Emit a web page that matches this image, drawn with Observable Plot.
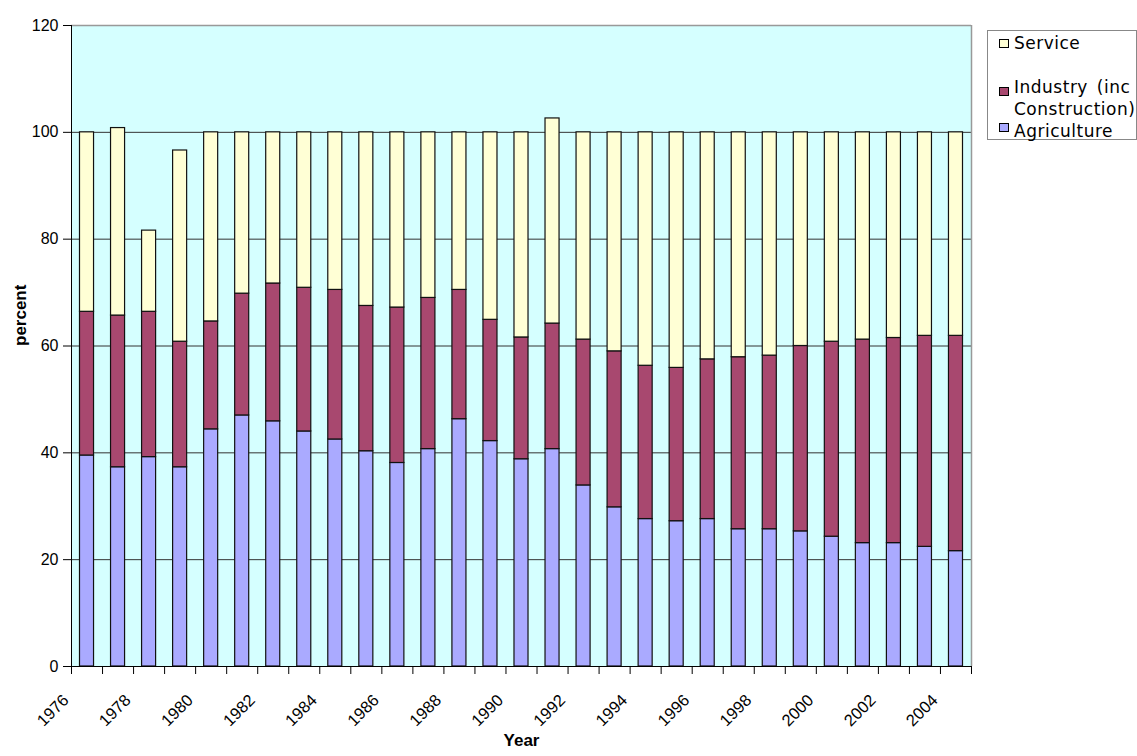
<!DOCTYPE html>
<html><head><meta charset="utf-8">
<script src="https://cdn.jsdelivr.net/npm/d3@7"></script>
<script src="https://cdn.jsdelivr.net/npm/@observablehq/plot@0.6"></script>
<style>
body{margin:0;background:#fff;}
#wrap{position:relative;width:1137px;height:756px;overflow:hidden;}
#legend{position:absolute;left:987px;top:30px;}
</style>
</head><body>
<div id="wrap"><div id="chart"></div><svg id="legend" width="150" height="111"></svg></div>
<script>
const years = [1976,1977,1978,1979,1980,1981,1982,1983,1984,1985,1986,1987,1988,1989,1990,1991,1992,1993,1994,1995,1996,1997,1998,1999,2000,2001,2002,2003,2004];
const agriculture = [39.5,37.3,39.2,37.3,44.4,47.0,45.9,44.0,42.5,40.3,38.1,40.7,46.3,42.2,38.8,40.7,33.9,29.8,27.6,27.2,27.6,25.7,25.7,25.3,24.3,23.1,23.1,22.4,21.6];
const industry = [26.9,28.4,27.2,23.5,20.2,22.8,25.8,26.9,28.0,27.2,29.1,28.3,24.2,22.7,22.8,23.5,27.3,29.2,28.7,28.7,29.9,32.2,32.5,34.7,36.5,38.1,38.4,39.5,40.3];
const service = [33.6,35.1,15.2,35.8,35.4,30.2,28.3,29.1,29.5,32.5,32.8,31.0,29.5,35.1,38.4,38.4,38.8,41.0,43.7,44.1,42.5,42.1,41.8,40.0,39.2,38.8,38.5,38.1,38.1];
const sectors = ["Agriculture","Industry (inc Construction)","Service"];
const sectorColors = ["#AAAAFF","#A8486F","#FFFFD5"];
const yTicks = [0,20,40,60,80,100,120];
const yearLabels = ["1976","1978","1980","1982","1984","1986","1988","1990","1992","1994","1996","1998","2000","2002","2004"];

const rows = [];
years.forEach((yr,i)=>{
  rows.push({year:yr, sector:sectors[0], value:agriculture[i]});
  rows.push({year:yr, sector:sectors[1], value:industry[i]});
  rows.push({year:yr, sector:sectors[2], value:service[i]});
});
const boundaries = years.concat([years[years.length-1]+1]);
const labelPos = yearLabels.map(s => +s + 0.5);

const chart = Plot.plot({
  width:1137, height:756,
  marginLeft:71, marginRight:166, marginTop:25, marginBottom:90,
  x:{type:"linear", domain:[years[0], years[years.length-1]+1]},
  y:{domain:[0,120]},
  color:{domain:sectors, range:sectorColors},
  style:{fontFamily:"'Liberation Sans', Arial, sans-serif", fontSize:"16px", color:"#000", background:"#fff", overflow:"visible"},
  marks:[
    Plot.frame({fill:"#D5FFFF", stroke:"none"}),
    Plot.ruleY(yTicks.filter(d=>d>0 && d<120), {stroke:"#333", strokeWidth:1}),
    Plot.ruleY([120], {stroke:"#999", strokeWidth:1.5}),
    Plot.ruleX([years[years.length-1]+1], {stroke:"#999", strokeWidth:1.5}),
    Plot.rectY(rows, {x:"year", interval:1, y:"value", fill:"sector", stroke:"#111", strokeWidth:1.2, insetLeft:8.5, insetRight:8.5}),
    Plot.ruleX([years[0]], {stroke:"#000", strokeWidth:1}),
    Plot.ruleY([0], {stroke:"#000", strokeWidth:1}),
    Plot.axisY({ticks:yTicks, tickSize:8, tickPadding:5, label:null, fontSize:16, tickFormat:d=>String(d)}),
    Plot.axisX({ticks:boundaries, tickSize:8, tickFormat:()=>"", label:null}),
    Plot.axisX({ticks:labelPos, tickSize:0, tickRotate:-45, tickPadding:4, tickFormat:d=>String(Math.floor(d)), label:null, fontSize:16.5, dx:-21, dy:27}),
    Plot.text(["percent"], {frameAnchor:"left", dx:-51, rotate:-90, fontWeight:"bold", fontSize:17}),
    Plot.text(["Year"], {frameAnchor:"bottom", dy:79, fontWeight:"bold", fontSize:17})
  ]
});
document.getElementById("chart").appendChild(chart);

// legend (SVG, positioned to the right of the plot)
const legendItems = [
  {lines:["Service"], color:sectorColors[2], swY:9, baseY:19},
  {lines:["Industry (inc","Construction)"], color:sectorColors[1], swY:57, baseY:63},
  {lines:["Agriculture"], color:sectorColors[0], swY:93, baseY:107}
];
const lg = d3.select("#legend");
lg.append("rect").attr("x",0.5).attr("y",0.5).attr("width",149).attr("height",109)
  .attr("fill","#fff").attr("stroke","#888").attr("stroke-width",1);
legendItems.forEach(it=>{
  lg.append("rect").attr("x",12.5).attr("y",it.swY+0.5).attr("width",9).attr("height",8)
    .attr("fill",it.color).attr("stroke","#000").attr("stroke-width",1);
  it.lines.forEach((ln,j)=>{
    lg.append("text").attr("x",27).attr("y",it.baseY + j*22)
      .attr("font-family","'DejaVu Sans', Verdana, sans-serif").attr("font-size",17)
      .attr("letter-spacing","0.5px").attr("word-spacing","3px").attr("fill","#000").text(ln);
  });
});
</script>
</body></html>
